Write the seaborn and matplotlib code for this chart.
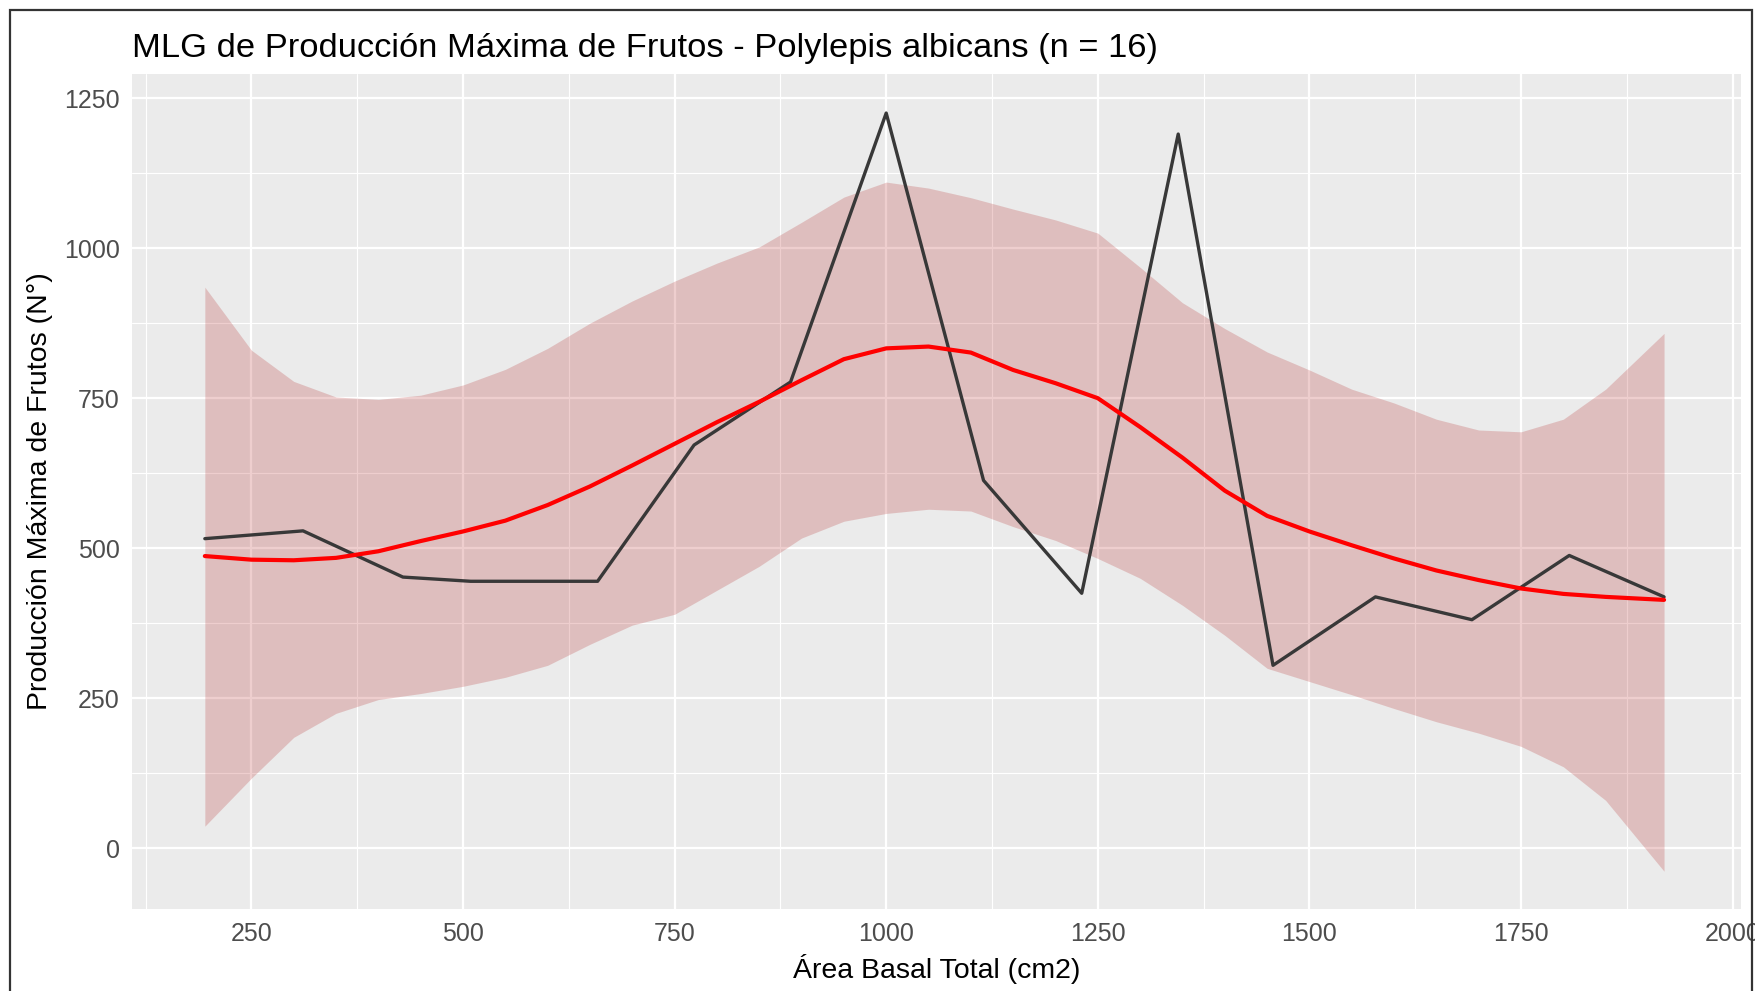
import matplotlib
matplotlib.use("Agg")
import matplotlib.pyplot as plt
import seaborn as sns
import pandas as pd
from matplotlib.ticker import MultipleLocator
from matplotlib.patches import Rectangle

# observed data (area basal vs max fruit production)
area_basal = [195, 311, 429, 509, 659, 773, 887, 1000, 1115, 1231, 1345, 1457, 1578, 1692, 1807, 1919]
frutos = [516, 529, 452, 445, 445, 672, 777, 1225, 613, 425, 1190, 305, 419, 381, 488, 419]

# fitted curve and confidence band
fit_x = [195, 250, 300, 350, 400, 450, 500, 550, 600, 650, 700, 750, 800, 850, 900, 950,
         1000, 1050, 1100, 1150, 1200, 1250, 1300, 1350, 1400, 1450, 1500, 1550, 1600,
         1650, 1700, 1750, 1800, 1850, 1919]
fit_y = [487, 481, 480, 484, 495, 512, 528, 546, 572, 603, 638, 674, 710, 744, 780, 815,
         833, 836, 826, 797, 775, 750, 702, 651, 596, 554, 528, 505, 483, 463, 447, 433,
         424, 419, 414]
upper = [935, 830, 778, 752, 748, 755, 772, 798, 833, 875, 912, 945, 975, 1002, 1043, 1085,
         1110, 1100, 1084, 1065, 1047, 1025, 968, 909, 866, 827, 797, 765, 742, 715, 697, 694,
         715, 765, 858]
lower = [37, 117, 185, 225, 248, 258, 270, 285, 305, 340, 372, 390, 430, 470, 517, 545,
         558, 565, 562, 536, 513, 483, 450, 405, 355, 300, 278, 256, 233, 211, 192, 170,
         136, 80, -38]

obs = pd.DataFrame({"x": area_basal, "y": frutos})
fit = pd.DataFrame({"x": fit_x, "y": fit_y, "lo": lower, "hi": upper})

sns.set_theme(style="darkgrid", rc={
    "axes.facecolor": "#EBEBEB",
    "grid.color": "white",
    "axes.edgecolor": "#EBEBEB",
})
plt.rcParams["font.family"] = ["Liberation Sans", "DejaVu Sans"]

fig = plt.figure(figsize=(17.56, 9.91), dpi=100)
ax = fig.add_axes([0.0752, 0.0827, 0.9163, 0.8426])

ax.fill_between(fit["x"], fit["lo"], fit["hi"], color="#B22222", alpha=0.22, lw=0, zorder=2)
sns.lineplot(data=obs, x="x", y="y", ax=ax, color="#383838", lw=2.4, zorder=3)
sns.lineplot(data=fit, x="x", y="y", ax=ax, color="red", lw=3.0, zorder=4)

ax.set_xlim(109, 2010)
ax.set_ylim(-101, 1290)
ax.xaxis.set_major_locator(MultipleLocator(250))
ax.xaxis.set_minor_locator(MultipleLocator(125))
ax.yaxis.set_major_locator(MultipleLocator(250))
ax.yaxis.set_minor_locator(MultipleLocator(125))
ax.grid(which="major", color="white", lw=1.6)
ax.grid(which="minor", color="white", lw=0.8)
for s in ax.spines.values():
    s.set_visible(False)

ax.tick_params(axis="both", which="major", length=5, width=1.2, color="#333333",
               labelcolor="#4D4D4D", labelsize=18, pad=4)
ax.tick_params(axis="both", which="minor", length=0)

ax.set_xlabel("Área Basal Total (cm2)", fontsize=20.5, color="black", labelpad=6)
ax.set_ylabel("Producción Máxima de Frutos (N°)", fontsize=20.5, color="black", labelpad=8)
ax.set_title("MLG de Producción Máxima de Frutos - Polylepis albicans (n = 16)",
             fontsize=24.8, loc="left", pad=12, color="black")

# outer frame
fig.patches.append(Rectangle((10 / 1756, -0.01), 1742 / 1756, 1 - 10 / 991 + 0.01,
                             transform=fig.transFigure, fill=False,
                             edgecolor="#333333", lw=1.6))

fig.savefig("out.png", dpi=100)
